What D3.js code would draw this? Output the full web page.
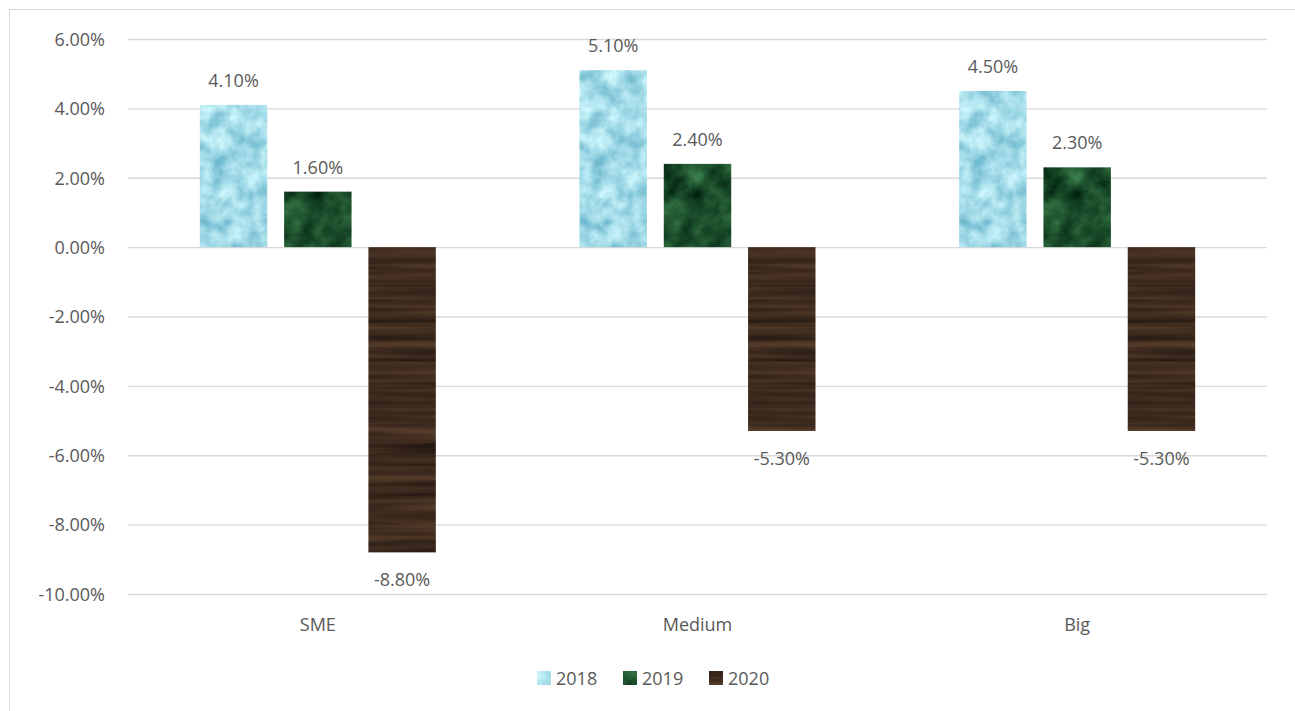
<!DOCTYPE html>
<html>
<head>
<meta charset="utf-8">
<script src="https://cdn.jsdelivr.net/npm/d3@7"></script>
<style>
  body { margin: 0; background: #fff; }
  text { font-family: "Open Sans", "Liberation Sans", sans-serif; fill: #595959; }
</style>
</head>
<body>
<div id="chart"></div>
<script>
// podatki
const categories = ["SME", "Medium", "Big"];
const seriesNames = ["2018", "2019", "2020"];
const values2018 = [4.1, 5.1, 4.5];
const values2019 = [1.6, 2.4, 2.3];
const values2020 = [-8.8, -5.3, -5.3];
const yTicks = [6, 4, 2, 0, -2, -4, -6, -8, -10];

const width = 1295;
const height = 711;
const margin = { top: 39, right: 28, bottom: 117, left: 128 };

const svg = d3.select("#chart")
    .append("svg")
    .attr("width", width)
    .attr("height", height);

// teksture (voda, marmor, les)
const defs = svg.append("defs");
function texture(id, freq, oct, seed, matrix) {
    const f = defs.append("filter").attr("id", id)
        .attr("x", 0).attr("y", 0).attr("width", 1).attr("height", 1)
        .attr("color-interpolation-filters", "sRGB");
    f.append("feTurbulence").attr("type", "fractalNoise")
        .attr("baseFrequency", freq).attr("numOctaves", oct).attr("seed", seed).attr("result", "n");
    f.append("feColorMatrix").attr("in", "n").attr("type", "matrix").attr("values", matrix).attr("result", "c");
    f.append("feComposite").attr("in", "c").attr("in2", "SourceGraphic").attr("operator", "in");
}
texture("tex2018", "0.06", 3, 4,
    "0.6 0 0 0 0.34  0.4 0 0 0 0.66  0.3 0 0 0 0.76  0 0 0 0 1");
texture("tex2019", "0.04", 4, 7,
    "0.35 0 0 0 -0.06  0.55 0 0 0 0.04  0.35 0 0 0 0.0  0 0 0 0 1");
texture("tex2020", "0.004 0.12", 3, 2,
    "0.35 0 0 0 0.07  0.26 0 0 0 0.04  0.18 0 0 0 0.03  0 0 0 0 1");
const fills = ["#a6dde8", "#1f5530", "#3c2b1e"];

// okvir
svg.append("rect")
    .attr("x", 9.5).attr("y", 9.5)
    .attr("width", width).attr("height", height)
    .attr("fill", "none").attr("stroke", "#d9d9d9");

const y = d3.scaleLinear()
    .domain([-10, 6])
    .range([594, margin.top]);

const x0 = d3.scaleBand()
    .domain(categories)
    .range([margin.left, width - margin.right]);

const x1 = d3.scaleBand()
    .domain(seriesNames)
    .range([x0.bandwidth() / 2 - 118, x0.bandwidth() / 2 + 118])
    .paddingInner(0.2);

// mreža
svg.append("g")
    .attr("transform", `translate(${margin.left},0)`)
    .call(d3.axisLeft(y).tickValues(yTicks).tickSize(-(width - margin.right - margin.left))
        .tickFormat(d => d.toFixed(2) + "%"))
    .call(g => g.select(".domain").remove())
    .call(g => g.selectAll("line").attr("stroke", "#d9d9d9").attr("stroke-width", 1.3))
    .call(g => g.selectAll("text").attr("x", -23).attr("dy", "0.35em")
        .style("font-size", "18px").attr("fill", "#595959"));

// kategorije
svg.append("g")
    .attr("transform", `translate(0,${y(-10)})`)
    .call(d3.axisBottom(x0).tickSize(0))
    .call(g => g.select(".domain").remove())
    .call(g => g.selectAll("text").attr("y", 24)
        .style("font-size", "18px").attr("fill", "#595959"));

const seriesValues = [values2018, values2019, values2020];
const rows = categories.map((c, i) => ({
    cat: c,
    items: seriesNames.map((s, j) => ({ s, j, v: seriesValues[j][i] }))
}));

const groups = svg.selectAll(".grp")
    .data(rows)
    .enter()
    .append("g")
    .attr("transform", d => `translate(${x0(d.cat)},0)`);

groups.selectAll("rect")
    .data(d => d.items)
    .enter()
    .append("rect")
    .attr("x", d => x1(d.s))
    .attr("y", d => y(Math.max(0, d.v)))
    .attr("width", x1.bandwidth())
    .attr("height", d => Math.abs(y(d.v) - y(0)))
    .attr("fill", d => fills[d.j])
    .attr("filter", d => `url(#tex${d.s})`);

groups.selectAll(".lbl")
    .data(d => d.items)
    .enter()
    .append("text")
    .attr("x", d => x1(d.s) + x1.bandwidth() / 2)
    .attr("y", d => d.v >= 0 ? y(d.v) - 18 : y(d.v) + 34)
    .attr("text-anchor", "middle")
    .style("font-size", "18px")
    .text(d => d.v.toFixed(2) + "%");

// legenda
const legend = svg.append("g").attr("transform", "translate(537,671)");
const lg = legend.selectAll("g")
    .data(seriesNames)
    .enter()
    .append("g")
    .attr("transform", (d, i) => `translate(${i * 86},0)`);
lg.append("rect")
    .attr("width", 14).attr("height", 14)
    .attr("fill", (d, i) => fills[i])
    .attr("filter", d => `url(#tex${d})`);
lg.append("text")
    .attr("x", 19).attr("y", 14)
    .style("font-size", "18px")
    .text(d => d);
</script>
</body>
</html>
